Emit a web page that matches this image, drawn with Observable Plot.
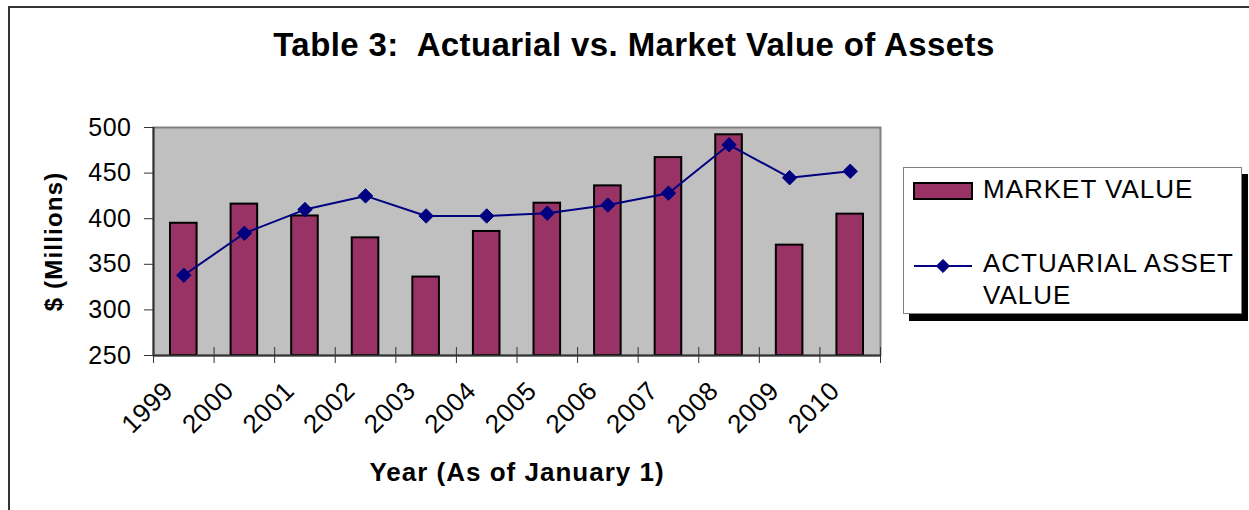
<!DOCTYPE html>
<html><head><meta charset="utf-8">
<script src="https://cdn.jsdelivr.net/npm/d3@7"></script>
<script src="https://cdn.jsdelivr.net/npm/@observablehq/plot@0.6"></script>
<style>
html,body{margin:0;padding:0;background:#fff;overflow:hidden;}
#wrap{position:relative;width:1249px;height:510px;font-family:"Liberation Sans",Arial,sans-serif;color:#000;}
#frame{position:absolute;left:8px;top:6px;width:1260px;height:520px;border-left:2px solid #333;border-top:2px solid #333;}
#title{position:absolute;left:0;top:28px;width:1268px;text-align:center;font-weight:bold;font-size:33px;line-height:33px;letter-spacing:0.4px;white-space:pre;}
#chart{position:absolute;left:0;top:80px;}
#legend{position:absolute;left:903px;top:167px;width:337px;height:145px;border:1px solid #808080;box-shadow:6px 7px 0 #000;background:#fff;}
</style></head><body>
<div id="wrap"><div id="frame"></div><div id="title"></div><div id="chart"></div><div id="legend"></div></div>
<script>
const years = [1999, 2000, 2001, 2002, 2003, 2004, 2005, 2006, 2007, 2008, 2009, 2010];
const marketValue = [395, 416, 403, 379, 336, 386, 417, 436, 467, 492, 371, 405];
const actuarialValue = [338, 384, 410, 425, 403, 403, 406, 415, 428, 481, 445, 452];
const yTicks = [250, 300, 350, 400, 450, 500];
const titleText = "Table 3:  Actuarial vs. Market Value of Assets";
const xLabel = "Year (As of January 1)";
const yLabel = "$ (Millions)";
const seriesNames = ["MARKET VALUE", "ACTUARIAL ASSET", "VALUE"];

const barColor = "#993366", lineColor = "#000080";
const data = years.map((year, i) => ({year, market: marketValue[i], actuarial: actuarialValue[i]}));
const boundaries = d3.range(years[0] - 0.5, years[years.length - 1] + 1, 1);

document.getElementById("title").textContent = titleText;

const plot = Plot.plot({
  width: 1249, height: 430,
  marginTop: 47, marginLeft: 153, marginRight: 369, marginBottom: 155,
  style: {background: "none", fontFamily: "Liberation Sans, Arial, sans-serif", overflow: "visible", color: "#000"},
  x: {type: "linear", domain: [years[0] - 0.5, years[years.length - 1] + 0.5]},
  y: {domain: [250, 500]},
  marks: [
    Plot.frame({fill: "#c0c0c0", stroke: "#808080", strokeWidth: 2}),
    Plot.rectY(data, {x1: d => d.year - 0.5, x2: d => d.year + 0.5, y1: 250, y2: "market",
      insetLeft: 17, insetRight: 17, fill: barColor, stroke: "#000", strokeWidth: 2}),
    Plot.ruleX([years[0] - 0.5], {stroke: "#333", strokeWidth: 2}),
    Plot.ruleY([250], {stroke: "#333", strokeWidth: 2}),
    Plot.axisY({ticks: yTicks, tickSize: 9, tickPadding: 13, fontSize: 25, stroke: "#333",
      label: yLabel, labelAnchor: "center", labelOffset: 109, labelArrow: "none"}),
    Plot.axisX({ticks: boundaries, tickSize: 16, dy: -8, tickFormat: () => "", stroke: "#333", label: null}),
    Plot.axisX({ticks: years, tickSize: 0, tickPadding: 31, dx: -15, tickRotate: -45, tickFormat: d => String(d), fontSize: 26,
      label: xLabel, labelAnchor: "center", labelOffset: 125, labelArrow: "none"}),
    Plot.line(data, {x: "year", y: "actuarial", stroke: lineColor, strokeWidth: 2}),
    Plot.dot(data, {x: "year", y: "actuarial", symbol: "diamond2", r: 6.5, fill: lineColor, stroke: lineColor, strokeWidth: 1})
  ]
});
document.getElementById("chart").appendChild(plot);

// style tick labels and axis labels
const svg = d3.select(plot);
svg.selectAll("g[aria-label='y-axis tick label'] text, g[aria-label='x-axis tick label'] text").style("letter-spacing", "0.5px");
svg.selectAll("g[aria-label='y-axis label'] text")
  .style("font-weight", "bold").style("font-size", "24px").style("letter-spacing", "1.2px");
svg.selectAll("g[aria-label='x-axis label'] text")
  .style("font-weight", "bold").style("font-size", "26px").style("letter-spacing", "1px");

// legend
const lg = d3.select("#legend").append("svg").attr("width", 337).attr("height", 145)
  .style("font-family", "Liberation Sans, Arial, sans-serif");
lg.append("rect").attr("x", 10).attr("y", 15).attr("width", 58).attr("height", 16)
  .attr("fill", barColor).attr("stroke", "#000").attr("stroke-width", 2);
lg.append("text").attr("x", 79).attr("y", 30).attr("font-size", 26).attr("letter-spacing", "1px").text(seriesNames[0]);
lg.append("line").attr("x1", 10).attr("x2", 68).attr("y1", 98).attr("y2", 98).attr("stroke", lineColor).attr("stroke-width", 2);
lg.append("path").attr("transform", "translate(39,98)").attr("d", d3.symbol(d3.symbolDiamond2, 110)())
  .attr("fill", lineColor).attr("stroke", lineColor);
lg.append("text").attr("x", 79).attr("y", 104).attr("font-size", 26).attr("letter-spacing", "1px").text(seriesNames[1]);
lg.append("text").attr("x", 79).attr("y", 136).attr("font-size", 26).attr("letter-spacing", "1px").text(seriesNames[2]);
</script>
</body></html>
